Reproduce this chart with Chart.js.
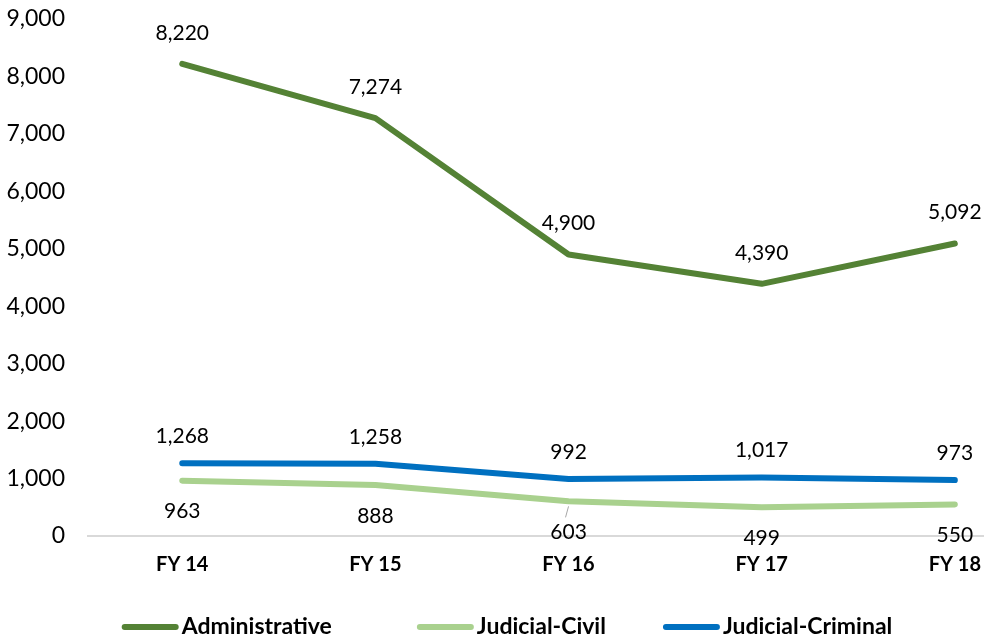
<!DOCTYPE html>
<html>
<head>
<meta charset="utf-8">
<script src="https://cdn.jsdelivr.net/npm/chart.js@4.4.1/dist/chart.umd.min.js"></script>
<style>
  html, body { margin: 0; padding: 0; background: #fff; }
  #wrap { width: 990px; height: 639px; position: relative; }
</style>
</head>
<body>
<div id="wrap"><canvas id="grafico"></canvas></div>
<script>
// Datos del grafico
const categorias = ['FY 14', 'FY 15', 'FY 16', 'FY 17', 'FY 18'];
const administrativo = [8220, 7274, 4900, 4390, 5092];
const judicialCivil = [963, 888, 603, 499, 550];
const judicialCriminal = [1268, 1258, 992, 1017, 973];
const ticksY = [0, 1000, 2000, 3000, 4000, 5000, 6000, 7000, 8000, 9000];

function fmt(v) {
    return v.toLocaleString('en-US');
}

// Convierte una serie en puntos {x: indice, y: valor}
function puntos(serie) {
    return serie.map((v, i) => ({ x: i, y: v }));
}

// Plugin para dibujar las etiquetas de datos
const etiquetas = {
    id: 'etiquetas',
    afterDatasetsDraw(chart) {
        const ctx = chart.ctx;
        ctx.save();
        ctx.font = '21px Lato';
        ctx.fillStyle = '#000';
        ctx.textAlign = 'center';
        ctx.textBaseline = 'middle';
        chart.data.datasets.forEach((ds, di) => {
            const meta = chart.getDatasetMeta(di);
            meta.data.forEach((pt, i) => {
                ctx.fillText(fmt(ds.data[i].y), pt.x, pt.y + ds.labelOffset);
                if (ds.leader && ds.leader[i]) {
                    ctx.strokeStyle = '#a6a6a6';
                    ctx.lineWidth = 1;
                    ctx.beginPath();
                    ctx.moveTo(pt.x, pt.y + 5);
                    ctx.lineTo(pt.x - 3, pt.y + 16);
                    ctx.stroke();
                }
            });
        });
        ctx.restore();
    }
};

// Plugin para la leyenda (linea + texto en negrita)
const leyenda = {
    id: 'leyenda',
    afterDraw(chart) {
        const ctx = chart.ctx;
        const lineW = 57, gapTexto = 3, gapItems = [85, 57];
        ctx.save();
        ctx.font = 'bold 23px "Liberation Sans Narrow", Lato';
        ctx.textBaseline = 'middle';
        ctx.textAlign = 'left';
        const anchos = chart.data.datasets.map(ds => lineW + gapTexto + ctx.measureText(ds.label).width);
        const total = anchos.reduce((a, b) => a + b, 0) + gapItems.reduce((a, b) => a + b, 0);
        let x = chart.width / 2 + 12 - total / 2;
        const y = chart.height - 12;
        chart.data.datasets.forEach((ds, i) => {
            ctx.strokeStyle = ds.borderColor;
            ctx.lineWidth = 6;
            ctx.lineCap = 'round';
            ctx.beginPath();
            ctx.moveTo(x + 3, y);
            ctx.lineTo(x + lineW - 3, y);
            ctx.stroke();
            ctx.fillStyle = '#000';
            ctx.fillText(ds.label, x + lineW + gapTexto, y);
            x += anchos[i] + (gapItems[i] || 0);
        });
        ctx.restore();
    }
};

const ctx = document.getElementById('grafico').getContext('2d');
const chart = new Chart(ctx, {
    type: 'line',
    data: {
        datasets: [{
            label: 'Administrative',
            data: puntos(administrativo),
            borderColor: '#548235',
            backgroundColor: '#548235',
            labelOffset: -31
        }, {
            label: 'Judicial-Civil',
            data: puntos(judicialCivil),
            borderColor: '#a9d18e',
            backgroundColor: '#a9d18e',
            labelOffset: 31,
            leader: [false, false, true, false, false]
        }, {
            label: 'Judicial-Criminal',
            data: puntos(judicialCriminal),
            borderColor: '#0070c0',
            backgroundColor: '#0070c0',
            labelOffset: -27
        }]
    },
    options: {
        responsive: true,
        maintainAspectRatio: false,
        animation: false,
        layout: { padding: { top: 19, right: 0, left: 0, bottom: 51 } },
        elements: {
            line: { borderWidth: 6, tension: 0, borderCapStyle: 'round', borderJoinStyle: 'round' },
            point: { radius: 0, hoverRadius: 0 }
        },
        plugins: {
            tooltip: { enabled: false },
            legend: { display: false }
        },
        scales: {
            x: {
                type: 'linear',
                min: -0.488,
                max: 4.149,
                afterBuildTicks: function (scale) {
                    scale.ticks = categorias.map((c, i) => ({ value: i }));
                },
                afterFit: function (scale) {
                    scale.height = 52;
                },
                grid: { display: false },
                border: { display: true, color: '#d9d9d9', width: 2 },
                ticks: {
                    autoSkip: false,
                    maxRotation: 0,
                    padding: 9,
                    color: '#000',
                    font: { family: 'Lato', size: 20, weight: 'bold' },
                    callback: function (v) { return categorias[v]; }
                }
            },
            y: {
                min: 0,
                max: 9000,
                afterBuildTicks: function (scale) {
                    scale.ticks = ticksY.map(v => ({ value: v }));
                },
                afterFit: function (scale) {
                    scale.width = 88;
                },
                grid: { display: false, drawTicks: true, tickLength: 23 },
                border: { display: false },
                ticks: {
                    padding: 0,
                    color: '#000',
                    font: { family: 'Lato', size: 23 },
                    callback: function (v) { return fmt(v); }
                }
            }
        }
    },
    plugins: [etiquetas, leyenda]
});
</script>
</body>
</html>
